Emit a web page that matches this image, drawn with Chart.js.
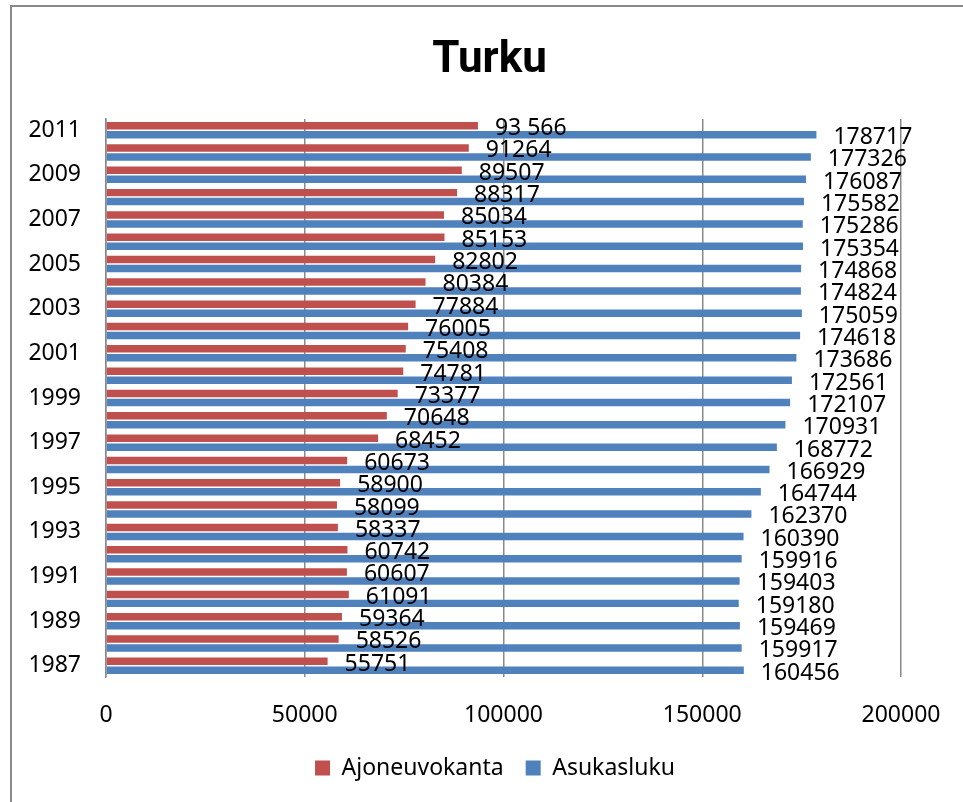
<!DOCTYPE html>
<html lang="fi">
<head>
<meta charset="utf-8">
<title>Turku</title>
<script src="https://cdn.jsdelivr.net/npm/chart.js@4.4.1/dist/chart.umd.min.js"></script>
<style>
  html, body { margin: 0; padding: 0; background: #ffffff; }
  canvas { display: block; }
</style>
</head>
<body>
<canvas id="chart" width="963" height="802"></canvas>
<script>
// Vuodet 1987–2011
const years = [1987, 1988, 1989, 1990, 1991, 1992, 1993, 1994, 1995, 1996, 1997, 1998, 1999,
               2000, 2001, 2002, 2003, 2004, 2005, 2006, 2007, 2008, 2009, 2010, 2011];

// Ajoneuvokanta
const vehicles = [55751, 58526, 59364, 61091, 60607, 60742, 58337, 58099, 58900, 60673, 68452, 70648, 73377,
                  74781, 75408, 76005, 77884, 80384, 82802, 85153, 85034, 88317, 89507, 91264, 93566];

// Asukasluku
const population = [160456, 159917, 159469, 159180, 159403, 159916, 160390, 162370, 164744, 166929, 168772, 170931, 172107,
                    172561, 173686, 174618, 175059, 174824, 174868, 175354, 175286, 175582, 176087, 177326, 178717];

// Value-axis ticks
const xTicks = [0, 50000, 100000, 150000, 200000];

// Label texts that are written differently from the plain number
const vehicleLabelText = { 2011: '93 566' };

const FONT = 'Noto Sans';
const RED = '#C0504D';
const BLUE = '#4F81BD';
const GRID = '#898989';

// Chart frame: grey line along the left and top edges
const framePlugin = {
  id: 'frame',
  beforeDraw(chart) {
    const ctx = chart.ctx;
    ctx.save();
    ctx.fillStyle = '#ffffff';
    ctx.fillRect(0, 0, chart.width, chart.height);
    ctx.fillStyle = '#8a8a8a';
    ctx.fillRect(10, 5, 2, chart.height - 5);
    ctx.fillRect(10, 5, chart.width - 10, 2);
    ctx.restore();
  }
};

// Centre the title and the legend under the plot rather than the whole canvas
const centrePlugin = {
  id: 'centreBlocks',
  afterLayout(chart) {
    const shift = (box, centre) => {
      if (!box) return;
      const dx = centre - (box.left + box.right) / 2;
      box.left += dx;
      box.right += dx;
    };
    shift(chart.titleBlock, 489.5);
    shift(chart.legend, 495);
  }
};

// Value labels just past the end of every bar
const valueLabelPlugin = {
  id: 'valueLabels',
  afterDatasetsDraw(chart) {
    const ctx = chart.ctx;
    ctx.save();
    ctx.font = '23px "' + FONT + '"';
    ctx.fillStyle = '#000000';
    ctx.textAlign = 'left';
    ctx.textBaseline = 'alphabetic';
    chart.data.datasets.forEach((ds, di) => {
      const meta = chart.getDatasetMeta(di);
      meta.data.forEach((bar, i) => {
        const value = ds.data[i];
        let text = String(value);
        if (di === 0 && vehicleLabelText[years[i]]) text = vehicleLabelText[years[i]];
        ctx.fillText(text, bar.x + 17, bar.y + 9.4);
      });
    });
    ctx.restore();
  }
};

new Chart(document.getElementById('chart'), {
  type: 'bar',
  data: {
    labels: years.map(String),
    datasets: [
      {
        label: 'Ajoneuvokanta',
        data: vehicles,
        backgroundColor: RED,
        borderWidth: 0,
        categoryPercentage: 0.806,
        barPercentage: 0.833
      },
      {
        label: 'Asukasluku',
        data: population,
        backgroundColor: BLUE,
        borderWidth: 0,
        categoryPercentage: 0.806,
        barPercentage: 0.833
      }
    ]
  },
  options: {
    indexAxis: 'y',
    responsive: false,
    animation: false,
    layout: { padding: { left: 10, right: 62, top: 0, bottom: 12.5 } },
    plugins: {
      title: {
        display: true,
        text: 'Turku',
        color: '#000000',
        font: { family: 'Roboto', weight: 'bold', size: 44 },
        padding: { top: 35, bottom: 31.2 }
      },
      legend: {
        position: 'bottom',
        labels: {
          color: '#000000',
          font: { family: FONT, size: 23 },
          boxWidth: 15,
          boxHeight: 15,
          padding: 22
        }
      },
      tooltip: { enabled: false }
    },
    scales: {
      x: {
        min: xTicks[0],
        max: xTicks[xTicks.length - 1],
        afterBuildTicks(scale) {
          scale.ticks = xTicks.map(v => ({ value: v }));
        },
        ticks: {
          color: '#000000',
          font: { family: FONT, size: 23, lineHeight: 1.635 },
          padding: 20,
          maxRotation: 0,
          callback(value) { return String(value); }
        },
        grid: { color: GRID, lineWidth: 1.5, drawTicks: false },
        border: { display: false },
        afterFit(scale) { scale.height = 57.5; }
      },
      y: {
        reverse: true,
        ticks: {
          autoSkip: false,
          color: '#000000',
          font: { family: FONT, size: 23 },
          padding: 25,
          callback(value, index) {
            return index % 2 === 0 ? this.getLabelForValue(value) : '';
          }
        },
        grid: { display: false, drawTicks: false },
        border: { display: true, color: GRID, width: 1.5 },
        afterFit(scale) { scale.width = 96; }
      }
    }
  },
  plugins: [framePlugin, centrePlugin, valueLabelPlugin]
});
</script>
</body>
</html>
